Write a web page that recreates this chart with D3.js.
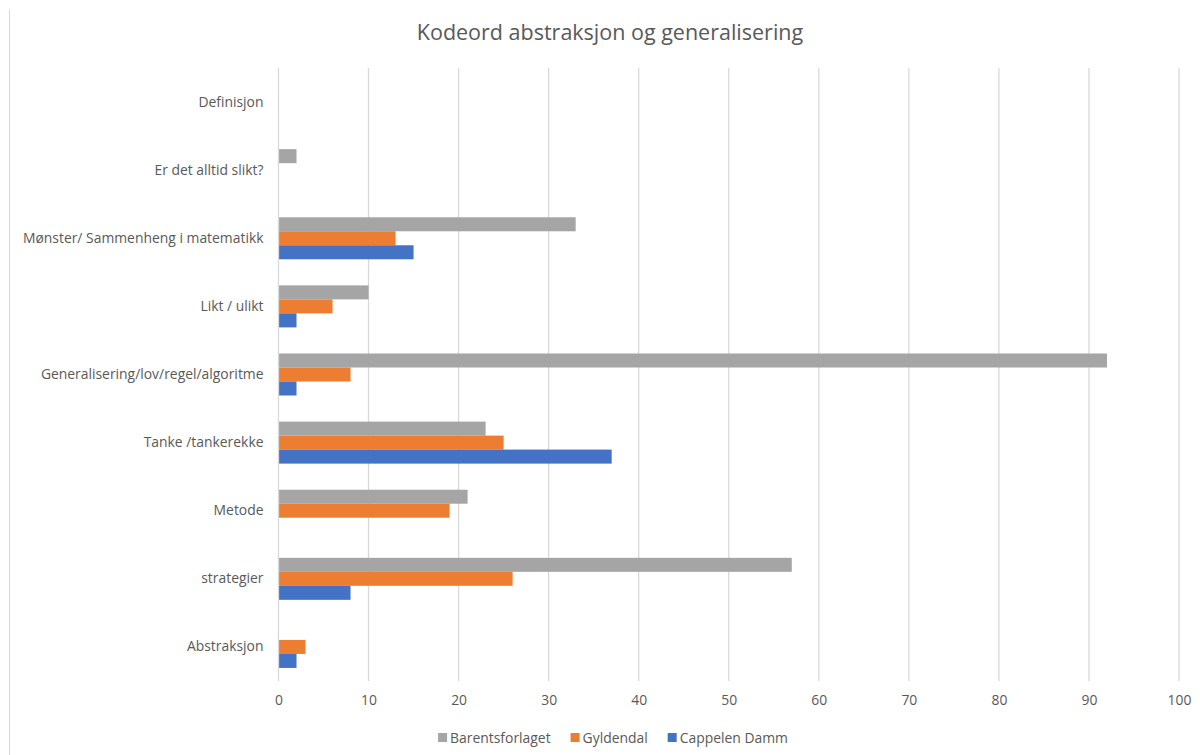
<!DOCTYPE html>
<html>
<head>
<meta charset="utf-8">
<script src="https://cdn.jsdelivr.net/npm/d3@7"></script>
<style>
  html, body { margin: 0; padding: 0; background: #fff; }
  svg { display: block; font-family: "Open Sans", Lato, sans-serif; }
</style>
</head>
<body>
<svg id="chart" width="1200" height="755"></svg>
<script>
const title = "Kodeord abstraksjon og generalisering";
const categories = [
  "Definisjon",
  "Er det alltid slikt?",
  "Mønster/ Sammenheng i matematikk",
  "Likt / ulikt",
  "Generalisering/lov/regel/algoritme",
  "Tanke /tankerekke",
  "Metode",
  "strategier",
  "Abstraksjon"
];
const seriesNames = ["Barentsforlaget", "Gyldendal", "Cappelen Damm"];
const seriesColors = ["#a5a5a5", "#ed7d31", "#4472c4"];
const barentsforlaget = [0, 2, 33, 10, 92, 23, 21, 57, 0];
const gyldendal      = [0, 0, 13, 6, 8, 25, 19, 26, 3];
const cappelenDamm   = [0, 0, 15, 2, 2, 37, 0, 8, 2];
const xTicks = [0, 10, 20, 30, 40, 50, 60, 70, 80, 90, 100];

const seriesValues = [barentsforlaget, gyldendal, cappelenDamm];

(function () {
const svg = d3.select("#chart");
const W = 1200, H = 755;
const pLeft = 278.5, pRight = 1179, pTop = 68, pBottom = 681;
const textColor = "#595959";
const fs = 13.9;

// frame line on left
svg.append("line").attr("x1", 9.5).attr("x2", 9.5).attr("y1", 10).attr("y2", H)
  .attr("stroke", "#d9d9d9").attr("stroke-width", 1);

const x = d3.scaleLinear().domain([0, 100]).range([pLeft, pRight]);
const y = d3.scaleBand().domain(categories).range([pTop, pBottom]).paddingInner(0).paddingOuter(0);
const groupH = 42;
const ySub = d3.scaleBand().domain(seriesNames).range([0, groupH]);

// gridlines
svg.append("g").selectAll("line").data(xTicks.slice(1)).join("line")
  .attr("x1", d => x(d)).attr("x2", d => x(d))
  .attr("y1", pTop).attr("y2", pBottom)
  .attr("stroke", "#d9d9d9").attr("stroke-width", 1.3);

// bars
const data = [];
categories.forEach((c, i) => {
  seriesNames.forEach((s, j) => {
    data.push({cat: c, series: s, value: seriesValues[j][i], color: seriesColors[j]});
  });
});
svg.append("g").selectAll("rect").data(data.filter(d => d.value > 0)).join("rect")
  .attr("x", x(0))
  .attr("y", d => y(d.cat) + (y.bandwidth() - groupH) / 2 + ySub(d.series))
  .attr("width", d => x(d.value) - x(0))
  .attr("height", ySub.bandwidth())
  .attr("fill", d => d.color);

// vertical axis line
svg.append("line").attr("x1", x(0)).attr("x2", x(0)).attr("y1", pTop).attr("y2", pBottom)
  .attr("stroke", "#d9d9d9").attr("stroke-width", 1.3);

// x axis labels
const xAxis = d3.axisBottom(x).tickValues(xTicks).tickSize(0).tickPadding(0);
const gx = svg.append("g").attr("transform", `translate(0,${pBottom + 14})`).call(xAxis);
gx.select(".domain").remove();
gx.selectAll("text").attr("fill", textColor).attr("font-size", fs)
  .attr("font-family", "'Open Sans', sans-serif");

// y axis labels
const yAxis = d3.axisLeft(y).tickSize(0).tickPadding(15);
const gy = svg.append("g").attr("transform", `translate(${x(0)},0)`).call(yAxis);
gy.select(".domain").remove();
gy.selectAll("text").attr("fill", textColor).attr("font-size", fs)
  .attr("font-family", "'Open Sans', sans-serif");

// title
svg.append("text").attr("x", 610).attr("y", 40).attr("text-anchor", "middle")
  .attr("fill", textColor).attr("font-size", 21.5).text(title);

// legend
const legend = svg.append("g");
let lx = 0;
seriesNames.forEach((s, i) => {
  const g = legend.append("g");
  g.append("rect").attr("x", 0).attr("y", -5).attr("width", 9).attr("height", 9).attr("fill", seriesColors[i]);
  const t = g.append("text").attr("x", 12).attr("y", 0).attr("dy", "0.35em")
    .attr("fill", textColor).attr("font-size", fs).text(s);
  const w = 12 + t.node().getComputedTextLength();
  g.attr("transform", `translate(${lx},0)`);
  lx += w + 20;
});
const totalW = lx - 20;
legend.attr("transform", `translate(${613 - totalW / 2},738)`);
})();
</script>
</body>
</html>
